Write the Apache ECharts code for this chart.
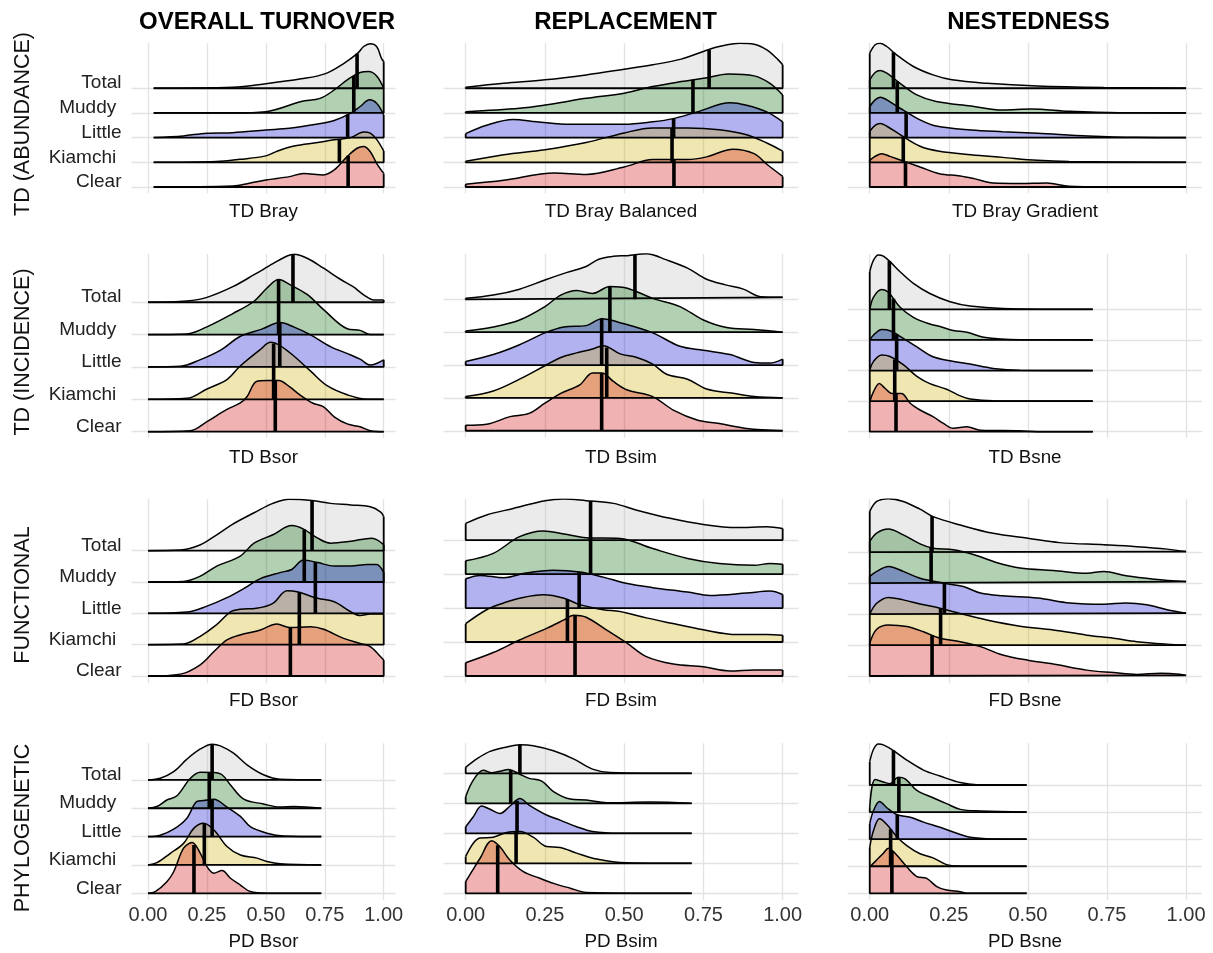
<!DOCTYPE html>
<html><head><meta charset="utf-8">
<script src="https://cdn.jsdelivr.net/npm/echarts@6/dist/echarts.min.js"></script>
<style>html,body{margin:0;padding:0;background:#fff}#c{width:1213px;height:953px}</style>
</head><body><div id="c"></div>
<script>
// ---------- labels ----------
const groups = ['Total', 'Muddy', 'Little', 'Kiamchi', 'Clear'];
const groupLabels = ['Total', 'Muddy ', 'Little', 'Kiamchi ', 'Clear'];
const groupLevel = [5, 4, 3, 2, 1];
const groupFill = ['rgba(190,190,190,0.3)', 'rgba(0,100,0,0.3)', 'rgba(0,0,205,0.3)', 'rgba(205,173,0,0.3)', 'rgba(205,0,0,0.3)'];
const xTicks = [0, 0.25, 0.5, 0.75, 1];
const colTitles = ['OVERALL TURNOVER', 'REPLACEMENT', 'NESTEDNESS'];
const rowTitles = ['TD (ABUNDANCE)', 'TD (INCIDENCE)', 'FUNCTIONAL', 'PHYLOGENETIC'];
const xTitles = [
  ['TD Bray', 'TD Bray Balanced', 'TD Bray Gradient'],
  ['TD Bsor', 'TD Bsim', 'TD Bsne'],
  ['FD Bsor', 'FD Bsim', 'FD Bsne'],
  ['PD Bsor', 'PD Bsim', 'PD Bsne']
];

// ---------- densities: [x, height in ridge units], order Total, Muddy, Little, Kiamchi, Clear ----------
const tdBray = [
  [[0.024,0],[0.36,0.04],[0.50,0.18],[0.65,0.38],[0.75,0.58],[0.83,1.0],[0.89,1.42],[0.915,1.69],[0.943,1.8],[0.97,1.69],[0.99,1.22],[1.0,1.08]],
  [[0.024,0],[0.36,0],[0.50,0.05],[0.65,0.46],[0.73,0.59],[0.79,0.93],[0.845,1.34],[0.90,1.64],[0.936,1.68],[0.97,1.5],[1.0,1.0]],
  [[0.024,0],[0.15,0.07],[0.25,0.18],[0.36,0.2],[0.50,0.31],[0.60,0.38],[0.72,0.55],[0.79,0.69],[0.86,0.99],[0.90,1.26],[0.94,1.53],[0.97,1.39],[1.0,0.92]],
  [[0.024,0],[0.29,0.03],[0.39,0.12],[0.50,0.26],[0.55,0.46],[0.62,0.66],[0.72,0.80],[0.79,0.91],[0.86,1.0],[0.915,1.23],[0.943,1.18],[0.97,0.93],[1.0,0.46]],
  [[0.024,0],[0.36,0.04],[0.43,0.15],[0.50,0.28],[0.60,0.42],[0.66,0.55],[0.745,0.49],[0.79,0.69],[0.845,1.23],[0.887,1.57],[0.915,1.64],[0.943,1.43],[0.97,0.96],[1.0,0.55]]
];
const tdBrayMedian = [0.887, 0.873, 0.847, 0.812, 0.849];

const tdBrayBal = [
  [[0,0.04],[0.12,0.2],[0.25,0.34],[0.38,0.54],[0.5,0.77],[0.59,0.95],[0.68,1.18],[0.75,1.49],[0.80,1.69],[0.865,1.82],[0.91,1.78],[0.95,1.55],[0.986,1.15],[1.0,0.95]],
  [[0,0.05],[0.17,0.19],[0.25,0.32],[0.38,0.59],[0.5,0.8],[0.59,1.07],[0.68,1.27],[0.75,1.4],[0.83,1.58],[0.91,1.5],[0.96,1.2],[1.0,0.73]],
  [[0,0.16],[0.066,0.5],[0.15,0.73],[0.224,0.64],[0.33,0.54],[0.5,0.54],[0.59,0.64],[0.655,0.77],[0.73,1.04],[0.834,1.41],[0.886,1.31],[0.95,1.04],[1.0,0.64]],
  [[0,0.04],[0.12,0.31],[0.25,0.51],[0.38,0.8],[0.5,1.19],[0.59,1.39],[0.70,1.39],[0.80,1.32],[0.886,1.12],[0.95,0.78],[1.0,0.45]],
  [[0,0.11],[0.12,0.27],[0.28,0.57],[0.38,0.51],[0.5,0.81],[0.59,1.11],[0.70,1.11],[0.76,1.22],[0.844,1.53],[0.91,1.35],[0.95,0.92],[1.0,0.43]]
];
const tdBrayBalMedian = [0.768, 0.717, 0.656, 0.651, 0.657];

const tdBrayGrad = [
  [[0,1.42],[0.017,1.76],[0.033,1.82],[0.054,1.69],[0.085,1.35],[0.138,0.88],[0.2,0.54],[0.26,0.34],[0.37,0.2],[0.53,0.09],[0.74,0.03],[1.0,0]],
  [[0,1.34],[0.017,1.64],[0.033,1.72],[0.054,1.61],[0.096,1.2],[0.149,0.73],[0.21,0.46],[0.32,0.28],[0.42,0.12],[0.51,0.16],[0.63,0.07],[0.79,0.01],[1.0,0]],
  [[0,1.26],[0.017,1.53],[0.033,1.64],[0.054,1.53],[0.096,1.19],[0.159,0.72],[0.21,0.47],[0.32,0.31],[0.42,0.24],[0.53,0.18],[0.69,0.07],[0.84,0.01],[1.0,0]],
  [[0,1.26],[0.017,1.5],[0.033,1.57],[0.054,1.46],[0.096,1.12],[0.159,0.65],[0.22,0.45],[0.32,0.31],[0.42,0.2],[0.53,0.08],[0.63,0.03],[1.0,0]],
  [[0,1.08],[0.017,1.24],[0.038,1.35],[0.064,1.24],[0.106,1.05],[0.159,0.81],[0.22,0.54],[0.286,0.45],[0.33,0.34],[0.39,0.16],[0.475,0.14],[0.56,0.16],[0.63,0.03],[0.74,0],[1.0,0]]
];
const tdBrayGradMedian = [0.075, 0.087, 0.115, 0.106, 0.113];

const tdBsor = [
  [[0,0],[0.165,0.04],[0.25,0.15],[0.36,0.48],[0.45,0.85],[0.53,1.19],[0.59,1.43],[0.62,1.48],[0.675,1.36],[0.745,1.05],[0.816,0.71],[0.87,0.48],[0.915,0.23],[0.958,0.07],[1.0,0.07]],
  [[0,0],[0.165,0.02],[0.25,0.24],[0.36,0.65],[0.45,1.03],[0.505,1.44],[0.555,1.7],[0.6,1.55],[0.675,1.24],[0.745,0.77],[0.845,0.18],[0.9,0.13],[0.943,0],[1.0,0]],
  [[0,0],[0.137,0.02],[0.22,0.22],[0.31,0.53],[0.39,0.94],[0.48,1.16],[0.56,1.37],[0.62,1.23],[0.69,0.99],[0.774,0.63],[0.86,0.37],[0.9,0.24],[0.943,0.06],[1.0,0.22]],
  [[0,0],[0.165,0.03],[0.25,0.32],[0.335,0.61],[0.39,1.02],[0.477,1.54],[0.52,1.76],[0.56,1.66],[0.62,1.33],[0.69,0.87],[0.76,0.42],[0.845,0.14],[0.93,0],[1.0,0]],
  [[0,0],[0.18,0.03],[0.25,0.31],[0.335,0.69],[0.39,0.88],[0.42,1.08],[0.46,1.55],[0.505,1.58],[0.555,1.58],[0.6,1.39],[0.646,1.13],[0.70,0.88],[0.745,0.77],[0.79,0.46],[0.845,0.24],[0.9,0.15],[0.943,0.03],[1.0,0]]
];
const tdBsorMedian = [0.615, 0.554, 0.559, 0.533, 0.540];

const tdBsim = [
  [[0,0.03],[0.087,0.13],[0.17,0.31],[0.25,0.59],[0.32,0.82],[0.38,1.0],[0.42,1.22],[0.466,1.31],[0.51,1.33],[0.57,1.39],[0.634,1.2],[0.70,0.95],[0.76,0.61],[0.82,0.44],[0.876,0.31],[0.93,0.08],[1.0,0.06]],
  [[0,0.04],[0.087,0.16],[0.17,0.37],[0.25,0.78],[0.30,1.13],[0.35,1.27],[0.40,1.18],[0.455,1.39],[0.51,1.34],[0.59,1.03],[0.676,0.78],[0.75,0.37],[0.823,0.14],[0.91,0.08],[1.0,0]],
  [[0,0.11],[0.087,0.32],[0.17,0.62],[0.25,0.98],[0.31,1.16],[0.38,1.2],[0.43,1.41],[0.487,1.29],[0.59,0.98],[0.676,0.57],[0.75,0.45],[0.834,0.32],[0.91,0.08],[0.96,0.06],[1.0,0.18]],
  [[0,0.04],[0.087,0.21],[0.17,0.57],[0.25,0.98],[0.30,1.23],[0.35,1.37],[0.40,1.49],[0.434,1.59],[0.487,1.34],[0.54,1.23],[0.59,1.03],[0.634,0.72],[0.70,0.57],[0.76,0.27],[0.844,0.14],[0.91,0.04],[1.0,0]],
  [[0,0.17],[0.066,0.2],[0.14,0.43],[0.2,0.53],[0.25,0.84],[0.30,1.14],[0.36,1.4],[0.40,1.76],[0.43,1.76],[0.466,1.5],[0.51,1.24],[0.59,1.04],[0.655,0.63],[0.73,0.33],[0.80,0.22],[0.886,0.07],[1.0,0]]
];
const tdBsimMedian = [0.534, 0.455, 0.429, 0.445, 0.429];

const tdBsne = [
  [[0,1.23],[0.012,1.61],[0.027,1.78],[0.043,1.74],[0.064,1.56],[0.096,1.23],[0.138,0.85],[0.19,0.52],[0.254,0.25],[0.317,0.11],[0.42,0.03],[0.705,0]],
  [[0,0.98],[0.012,1.4],[0.038,1.65],[0.059,1.56],[0.096,1.07],[0.138,0.74],[0.19,0.52],[0.222,0.44],[0.264,0.31],[0.307,0.25],[0.36,0.09],[0.475,0.01],[0.705,0]],
  [[0,0.99],[0.012,1.16],[0.038,1.34],[0.064,1.3],[0.106,1.05],[0.149,0.77],[0.2,0.45],[0.254,0.32],[0.317,0.21],[0.39,0.07],[0.475,0.01],[0.705,0]],
  [[0,1.02],[0.012,1.3],[0.038,1.51],[0.064,1.46],[0.106,1.19],[0.149,0.81],[0.19,0.57],[0.243,0.39],[0.286,0.17],[0.317,0.07],[0.39,0.01],[0.705,0]],
  [[0,0.98],[0.012,1.31],[0.03,1.58],[0.048,1.42],[0.07,1.25],[0.1,1.25],[0.128,0.93],[0.159,0.71],[0.2,0.49],[0.233,0.27],[0.264,0.11],[0.307,0.16],[0.35,0.05],[0.475,0.03],[0.53,0],[0.705,0]]
];
const tdBsneMedian = [0.062, 0.075, 0.085, 0.079, 0.083];

const fdBsor = [
  [[0,0],[0.137,0.02],[0.22,0.18],[0.29,0.5],[0.36,0.85],[0.45,1.21],[0.53,1.51],[0.6,1.64],[0.696,1.6],[0.774,1.51],[0.86,1.46],[0.943,1.4],[0.986,1.24],[1.0,1.09]],
  [[0,0],[0.15,0.02],[0.22,0.18],[0.29,0.5],[0.39,0.82],[0.45,1.24],[0.53,1.51],[0.61,1.8],[0.66,1.69],[0.72,1.4],[0.774,1.24],[0.86,1.3],[0.95,1.4],[1.0,1.19]],
  [[0,0],[0.165,0.04],[0.25,0.23],[0.335,0.5],[0.406,0.79],[0.477,1.11],[0.56,1.3],[0.61,1.4],[0.66,1.7],[0.72,1.62],[0.79,1.51],[0.86,1.51],[0.93,1.56],[0.97,1.56],[1.0,1.3]],
  [[0,0],[0.15,0.02],[0.22,0.26],[0.29,0.63],[0.35,1.05],[0.39,1.13],[0.46,1.16],[0.53,1.32],[0.59,1.72],[0.632,1.69],[0.72,1.48],[0.79,1.37],[0.86,1.05],[0.9,0.93],[0.943,0.98],[1.0,0.98]],
  [[0,0],[0.137,0.06],[0.22,0.35],[0.28,0.78],[0.335,1.15],[0.39,1.31],[0.477,1.47],[0.547,1.66],[0.6,1.55],[0.69,1.57],[0.745,1.49],[0.83,1.2],[0.9,1.04],[0.943,0.94],[0.986,0.62],[1.0,0.51]]
];
const fdBsorMedian = [0.696, 0.663, 0.71, 0.642, 0.604];

const fdBsim = [
  [[0,0.49],[0.066,0.74],[0.15,0.93],[0.25,1.16],[0.31,1.21],[0.38,1.16],[0.466,1.08],[0.54,0.88],[0.645,0.64],[0.75,0.46],[0.855,0.37],[0.95,0.39],[1.0,0.34]],
  [[0,0.39],[0.087,0.61],[0.17,1.1],[0.245,1.27],[0.31,1.18],[0.38,1.07],[0.487,1.05],[0.59,0.75],[0.70,0.46],[0.80,0.31],[0.91,0.26],[0.96,0.31],[1.0,0.29]],
  [[0,0.86],[0.045,0.96],[0.12,0.89],[0.19,1.03],[0.277,1.11],[0.36,1.06],[0.434,0.91],[0.51,0.72],[0.59,0.6],[0.70,0.47],[0.77,0.37],[0.886,0.44],[0.96,0.5],[1.0,0.4]],
  [[0,0.54],[0.066,0.95],[0.12,1.15],[0.17,1.29],[0.245,1.39],[0.31,1.29],[0.36,1.1],[0.434,0.95],[0.487,0.9],[0.57,0.71],[0.645,0.56],[0.75,0.36],[0.855,0.22],[0.95,0.22],[1.0,0.2]],
  [[0,0.39],[0.087,0.69],[0.17,1.06],[0.255,1.4],[0.31,1.65],[0.34,1.79],[0.38,1.73],[0.445,1.35],[0.51,0.96],[0.57,0.57],[0.655,0.35],[0.75,0.27],[0.834,0.15],[0.91,0.18],[1.0,0.18]]
];
const fdBsimMedian = [0.394, 0.394, 0.358, 0.321, 0.345];

const fdBsne = [
  [[0,1.32],[0.022,1.64],[0.059,1.73],[0.106,1.64],[0.159,1.39],[0.2,1.15],[0.286,0.88],[0.39,0.61],[0.5,0.45],[0.6,0.31],[0.74,0.24],[0.844,0.18],[0.94,0.1],[1.0,0.02]],
  [[0,1.35],[0.022,1.62],[0.059,1.75],[0.106,1.56],[0.159,1.27],[0.2,1.13],[0.264,1.08],[0.33,0.92],[0.4,0.67],[0.475,0.49],[0.58,0.41],[0.686,0.32],[0.74,0.38],[0.81,0.24],[0.9,0.13],[1.0,0.05]],
  [[0,1.22],[0.022,1.38],[0.059,1.54],[0.106,1.38],[0.159,1.16],[0.233,1.0],[0.296,0.89],[0.35,0.68],[0.42,0.59],[0.53,0.52],[0.633,0.36],[0.74,0.32],[0.81,0.36],[0.876,0.3],[0.94,0.14],[1.0,0.03]],
  [[0,1.0],[0.022,1.35],[0.059,1.54],[0.106,1.46],[0.159,1.33],[0.222,1.19],[0.286,1.02],[0.37,0.81],[0.475,0.61],[0.58,0.49],[0.686,0.32],[0.77,0.22],[0.844,0.11],[0.94,0.03],[1.0,0]],
  [[0,1.06],[0.022,1.51],[0.059,1.65],[0.117,1.6],[0.17,1.43],[0.222,1.22],[0.286,1.11],[0.35,0.95],[0.42,0.68],[0.5,0.51],[0.58,0.39],[0.686,0.19],[0.77,0.11],[0.844,0.05],[0.92,0.09],[0.98,0.06],[1.0,0.02]]
];
const fdBsneMedian = [0.197, 0.194, 0.236, 0.224, 0.197];

const pdBsor = [
  [[0,0],[0.052,0.06],[0.109,0.29],[0.165,0.73],[0.222,1.09],[0.272,1.26],[0.307,1.2],[0.363,0.94],[0.42,0.53],[0.49,0.18],[0.56,0.02],[0.735,0]],
  [[0,0],[0.038,0.06],[0.08,0.29],[0.123,0.44],[0.18,1.06],[0.222,1.27],[0.279,1.26],[0.314,1.18],[0.35,0.82],[0.406,0.32],[0.49,0.15],[0.56,0.04],[0.62,0.06],[0.735,0]],
  [[0,0],[0.052,0.05],[0.109,0.26],[0.165,0.65],[0.208,1.24],[0.236,1.27],[0.279,1.32],[0.335,1.04],[0.392,0.71],[0.434,0.35],[0.505,0.12],[0.576,0.02],[0.735,0]],
  [[0,0],[0.038,0.08],[0.095,0.41],[0.151,0.76],[0.194,1.29],[0.236,1.47],[0.279,1.24],[0.335,0.65],[0.392,0.35],[0.463,0.24],[0.505,0.12],[0.56,0.04],[0.735,0]],
  [[0,0],[0.031,0.06],[0.08,0.41],[0.109,0.76],[0.151,1.59],[0.187,1.79],[0.222,1.41],[0.25,0.94],[0.279,0.71],[0.314,0.8],[0.35,0.53],[0.392,0.29],[0.434,0.06],[0.505,0],[0.735,0]]
];
const pdBsorMedian = [0.272, 0.26, 0.272, 0.239, 0.195];

const pdBsim = [
  [[0,0.2],[0.035,0.48],[0.077,0.73],[0.13,0.88],[0.171,0.95],[0.213,0.92],[0.277,0.75],[0.34,0.48],[0.4,0.14],[0.455,0.03],[0.713,0]],
  [[0,0.22],[0.024,0.77],[0.056,1.1],[0.082,1.02],[0.108,1.07],[0.135,1.13],[0.171,0.97],[0.2,0.83],[0.24,0.74],[0.277,0.39],[0.33,0.14],[0.38,0.11],[0.445,0.02],[0.58,0.04],[0.713,0]],
  [[0,0.22],[0.024,0.55],[0.05,0.91],[0.077,0.8],[0.108,0.66],[0.14,0.91],[0.171,1.16],[0.2,0.94],[0.255,0.61],[0.298,0.44],[0.35,0.22],[0.4,0.06],[0.487,0],[0.713,0]],
  [[0,0.23],[0.024,0.67],[0.045,0.84],[0.087,0.87],[0.13,1.03],[0.171,1.06],[0.213,0.87],[0.255,0.56],[0.298,0.53],[0.35,0.34],[0.413,0.14],[0.487,0.03],[0.713,0]],
  [[0,0.39],[0.019,0.72],[0.045,1.16],[0.082,1.75],[0.108,1.55],[0.14,1.1],[0.182,0.72],[0.234,0.5],[0.277,0.33],[0.33,0.17],[0.38,0.03],[0.713,0]]
];
const pdBsimMedian = [0.171, 0.142, 0.162, 0.159, 0.101];

const pdBsne = [
  [[0,0.86],[0.012,1.32],[0.027,1.51],[0.043,1.48],[0.075,1.27],[0.117,0.92],[0.17,0.55],[0.222,0.33],[0.286,0.09],[0.338,0.01],[0.496,0]],
  [[0,0.18],[0.017,1.2],[0.043,1.11],[0.064,1.05],[0.09,1.29],[0.112,1.23],[0.149,0.8],[0.2,0.53],[0.243,0.31],[0.286,0.1],[0.35,0.04],[0.496,0]],
  [[0,0.57],[0.012,1.06],[0.031,1.39],[0.054,1.16],[0.085,0.91],[0.128,0.81],[0.17,0.63],[0.222,0.44],[0.275,0.22],[0.317,0.07],[0.39,0.01],[0.496,0]],
  [[0,0.7],[0.012,1.32],[0.031,1.75],[0.054,1.54],[0.085,1.1],[0.117,0.76],[0.159,0.46],[0.2,0.31],[0.243,0.06],[0.286,0.01],[0.496,0]],
  [[0,0.98],[0.017,1.17],[0.043,1.48],[0.059,1.66],[0.08,1.48],[0.117,0.98],[0.149,0.62],[0.18,0.55],[0.212,0.25],[0.243,0.12],[0.286,0.06],[0.307,0],[0.496,0]]
];
const pdBsneMedian = [0.075, 0.092, 0.087, 0.066, 0.07];

const panelCurves = [tdBray, tdBrayBal, tdBrayGrad, tdBsor, tdBsim, tdBsne, fdBsor, fdBsim, fdBsne, pdBsor, pdBsim, pdBsne];
const panelMedians = [tdBrayMedian, tdBrayBalMedian, tdBrayGradMedian, tdBsorMedian, tdBsimMedian, tdBsneMedian,
  fdBsorMedian, fdBsimMedian, fdBsneMedian, pdBsorMedian, pdBsimMedian, pdBsneMedian];

// ---------- layout ----------
const FONT = 'Liberation Sans, Arial, Helvetica, sans-serif';
const colBox = [{ left: 131.5, width: 264 }, { left: 443.5, width: 355 }, { left: 847.6, width: 354.3 }];
const rowBox = [{ top: 43.3, height: 150 }, { top: 254, height: 184 }, { top: 499.3, height: 184 }, { top: 743.3, height: 156.7 }];
const yRange = [
  [[0.745, 6.82], [0.745, 6.82], [0.745, 6.82]],
  [[0.805, 6.49], [0.78, 6.38], [0.794, 6.81]],
  [[0.767, 6.64], [0.785, 6.2], [0.764, 6.71]],
  [[0.763, 6.29], [0.777, 6.0], [0.753, 6.54]]
];
const X_MIN = -0.07, X_MAX = 1.05;

function interp(pts, x) {
  for (let i = 1; i < pts.length; i++) {
    if (x <= pts[i][0]) {
      const a = pts[i - 1], b = pts[i];
      return a[1] + (b[1] - a[1]) * (x - a[0]) / (b[0] - a[0]);
    }
  }
  return pts[pts.length - 1][1];
}

const grid = [], xAxis = [], yAxis = [], series = [];
for (let r = 0; r < 4; r++) {
  for (let c = 0; c < 3; c++) {
    const k = r * 3 + c;
    grid.push({ left: colBox[c].left, width: colBox[c].width, top: rowBox[r].top, height: rowBox[r].height, containLabel: false });
    xAxis.push({
      type: 'value', gridIndex: k, min: X_MIN, max: X_MAX,
      axisLine: { show: false }, axisTick: { show: false }, splitLine: { show: false },
      axisLabel: r === 3 ? {
        show: true, customValues: xTicks, formatter: v => Number(v).toFixed(2),
        fontFamily: FONT, fontSize: 20, color: '#333', margin: 5
      } : { show: false }
    });
    yAxis.push({
      type: 'value', gridIndex: k, min: yRange[r][c][0], max: yRange[r][c][1],
      axisLine: { show: false }, axisTick: { show: false }, splitLine: { show: false },
      axisLabel: c === 0 ? {
        show: true, customValues: groupLevel.slice(),
        formatter: v => groupLabels[groupLevel.indexOf(Math.round(v))],
        fontFamily: FONT, fontSize: 19, color: '#222', margin: 10,
        verticalAlign: 'bottom', lineHeight: 10
      } : { show: false }
    });
    // grid lines
    series.push({
      type: 'line', xAxisIndex: k, yAxisIndex: k, data: [[0, 1]], showSymbol: false, silent: true,
      lineStyle: { opacity: 0 }, z: 0, zlevel: 0, animation: false,
      markLine: {
        silent: true, symbol: 'none', label: { show: false }, animation: false, z: 0,
        lineStyle: { color: '#e3e3e3', width: 1.4, type: 'solid' },
        data: xTicks.map(v => ({ xAxis: v })).concat(groupLevel.map(v => ({ yAxis: v })))
      }
    });
    // ridges (top first so lower ridges are drawn over)
    const curves = panelCurves[k], meds = panelMedians[k];
    for (let g = 0; g < groups.length; g++) {
      const lvl = groupLevel[g], pts = curves[g];
      const first = pts[0], last = pts[pts.length - 1];
      series.push({
        name: groups[g], type: 'line', xAxisIndex: k, yAxisIndex: k, z: 2,
        data: pts.map(p => [p[0], lvl + p[1]]), smooth: 0.35, showSymbol: false, silent: true, animation: false,
        lineStyle: { color: '#000', width: 1.5 },
        areaStyle: { color: groupFill[g], origin: lvl, opacity: 1 }
      });
      series.push({
        type: 'line', xAxisIndex: k, yAxisIndex: k, z: 2, showSymbol: false, silent: true, animation: false,
        data: [[last[0], lvl + last[1]], [last[0], lvl], [first[0], lvl], [first[0], lvl + first[1]]],
        lineStyle: { color: '#000', width: 1.8 }
      });
      const m = meds[g];
      series.push({
        type: 'line', xAxisIndex: k, yAxisIndex: k, z: 2, showSymbol: false, silent: true, animation: false,
        data: [[m, lvl], [m, lvl + interp(pts, m)]],
        lineStyle: { color: '#000', width: 3.6, cap: 'butt' }
      });
    }
  }
}

// ---------- free text ----------
const colCenters = [267, 625.5, 1028.5];
const panelCenters = [263.5, 621, 1025];
const rowCenters = [124, 352, 595, 828];
const xTitleY = [211.7, 457.5, 700.7, 941.7];
const graphic = [];
colTitles.forEach((t, i) => graphic.push({
  type: 'text', x: colCenters[i], y: 22, silent: true,
  style: { text: t, fontFamily: FONT, fontSize: 24, fontWeight: 'bold', fill: '#000', align: 'center', verticalAlign: 'middle' }
}));
rowTitles.forEach((t, i) => graphic.push({
  type: 'text', x: 23, y: rowCenters[i], rotation: Math.PI / 2, silent: true,
  style: { text: t, fontFamily: FONT, fontSize: 21.5, fill: '#111', align: 'center', verticalAlign: 'middle' }
}));
xTitles.forEach((row, r) => row.forEach((t, c) => graphic.push({
  type: 'text', x: panelCenters[c], y: xTitleY[r], silent: true,
  style: { text: t, fontFamily: FONT, fontSize: 18.8, fill: '#111', align: 'center', verticalAlign: 'middle' }
})));

const chart = echarts.init(document.getElementById('c'), null, { renderer: 'canvas' });
chart.setOption({ animation: false, backgroundColor: '#fff', grid, xAxis, yAxis, series, graphic });
</script>
</body></html>
